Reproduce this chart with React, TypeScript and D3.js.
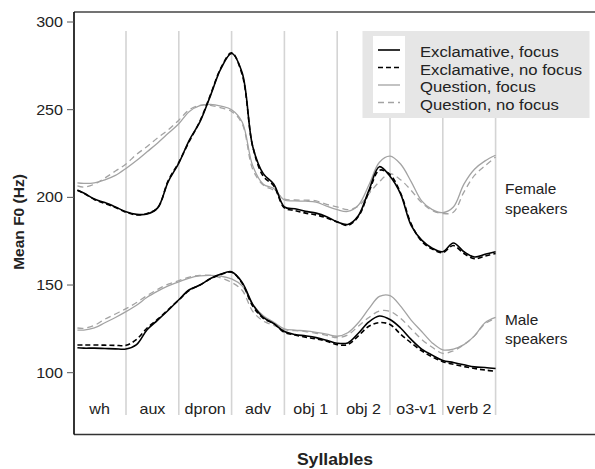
import React from "react";
import * as d3 from "d3";

const times = [0.08, 0.2, 0.4, 0.6, 0.8, 1.0, 1.2, 1.4, 1.6, 1.8, 2.0, 2.2, 2.4, 2.6, 2.8, 3.0, 3.2, 3.4, 3.6, 3.8, 4.0, 4.2, 4.4, 4.6, 4.8, 5.0, 5.2, 5.4, 5.6, 5.8, 6.0, 6.2, 6.4, 6.6, 6.8, 7.0, 7.2, 7.4, 7.6, 7.8, 8.0];
const syllables = ["wh", "aux", "dpron", "adv", "obj 1", "obj 2", "o3-v1", "verb 2"];
const yTicks = [100, 150, 200, 250, 300];

const femaleExclFocus = [204, 202.5, 199, 197, 194.5, 191.8, 190.3, 190.5, 194, 209, 219.5, 232.7, 243, 258, 273.5, 282, 271, 229, 213.5, 207.5, 194.5, 193.5, 192, 191, 189, 186, 184.5, 189.5, 204, 217.5, 212, 202, 184, 175.6, 171, 169, 174, 169, 166, 167.5, 169];
const femaleExclNoFocus = [204, 202.3, 198.8, 196.5, 194.2, 191.5, 190, 190.8, 194, 209.5, 220, 232, 243.5, 258.5, 274, 282.5, 270, 229, 212, 206.5, 194, 192.5, 191, 190, 188.3, 186, 184, 189, 203, 215.5, 213, 202.5, 185, 175, 170.5, 168.5, 172.5, 168, 165, 166.5, 168];
const femaleQuestFocus = [208.3, 208, 208.3, 210, 212.5, 216.5, 221, 226, 231, 236.5, 242, 249, 252.3, 253, 252, 250, 243, 218, 207.5, 205, 198.5, 198, 197.8, 197.3, 195, 193, 192, 195.5, 207, 220, 223.5, 219, 209, 198, 193, 191.3, 194.5, 207.5, 216, 220.8, 224];
const femaleQuestNoFocus = [206.5, 205.8, 207.5, 211, 215, 219, 224.5, 229, 234, 238.5, 244, 250, 252.5, 252.5, 251, 249, 242, 216, 207, 204, 199, 198.5, 198.4, 198, 196, 194.5, 193, 195, 202, 209, 213.5, 210, 204, 197, 192.5, 190.8, 191.5, 203, 212.5, 218, 223];

const maleExclFocus = [114.2, 114, 114, 113.8, 113.6, 113.5, 116, 124.5, 130, 135.6, 141.6, 147.3, 150, 153.7, 156.3, 157.5, 151.5, 139, 131.5, 128, 123.5, 121.8, 121, 120, 118.5, 116.8, 117, 122.5, 129, 132.3, 130.3, 125.5, 119, 113.5, 110, 107, 105.8, 104.5, 103.3, 103, 102.4];
const maleExclNoFocus = [115.8, 115.8, 115.8, 115.7, 115.6, 115.6, 119, 125.5, 130.5, 136, 141.5, 147, 150, 153.5, 156, 157.3, 151, 138, 131, 128, 123, 121.5, 120.3, 119.3, 118, 116, 116, 121, 126.5, 128.6, 127.5, 122, 117, 112.5, 109, 106.3, 104.8, 103.5, 102.4, 101.5, 100.8];
const maleQuestFocus = [124.3, 124.3, 125.5, 128.5, 131.5, 134.8, 138.5, 143, 146.5, 149.5, 151.8, 154, 155.2, 155.5, 155, 153.5, 149.5, 139, 132.5, 128.8, 125, 124.3, 123.8, 123, 122, 120.8, 122.8, 128.5, 136.5, 143.5, 144, 138, 130, 123.5, 117, 113, 113.5, 116, 121, 128.5, 131.5];
const maleQuestNoFocus = [125.5, 125.3, 127, 130.5, 133.5, 136.5, 140, 144, 147.5, 150.5, 152.5, 154.5, 155.5, 155.5, 154, 151.5, 147, 135, 129.5, 127, 124.5, 124, 123.5, 122.5, 121.3, 120, 121.5, 126.5, 131.5, 135.2, 135, 131, 125, 119, 114.5, 111, 112.5, 116, 121, 128, 131];

const legendLabels = ["Exclamative, focus", "Exclamative, no focus", "Question, focus", "Question, no focus"];
const groupLabels = [["Female", "speakers"], ["Male", "speakers"]];

const FONT = "'Liberation Sans', Arial, sans-serif";
const TEXT = "#222";

type TProps = { x: number; y: number; anchor?: string; size?: number; weight?: string | number; sx?: number; children: React.ReactNode };
function T({ x, y, anchor = "start", size = 14, weight = "normal", sx = 1.15, children }: TProps) {
  return (
    <text
      transform={`translate(${x},${y}) scale(${sx},1)`}
      textAnchor={anchor as any}
      fontFamily={FONT}
      fontSize={size}
      fontWeight={weight}
      fill={TEXT}
    >
      {children}
    </text>
  );
}

export default function App() {
  const W = 595;
  const H = 469;
  const x = d3.scaleLinear().domain([0, 8]).range([73.2, 495.6]);
  const y = d3.scaleLinear().domain([100, 300]).range([372.7, 22]);
  const line = d3
    .line<number>()
    .x((_, i) => x(times[i]))
    .y((d) => y(d))
    .curve(d3.curveCatmullRom.alpha(0.5));

  const styles = [
    { color: "#000", width: 1.6, dash: "none" },
    { color: "#000", width: 1.6, dash: "5,3" },
    { color: "#a3a3a3", width: 1.3, dash: "none" },
    { color: "#a3a3a3", width: 1.3, dash: "6,4" },
  ];
  const series = [
    { data: femaleQuestNoFocus, s: styles[3] },
    { data: femaleQuestFocus, s: styles[2] },
    { data: maleQuestNoFocus, s: styles[3] },
    { data: maleQuestFocus, s: styles[2] },
    { data: femaleExclNoFocus, s: styles[1] },
    { data: femaleExclFocus, s: styles[0] },
    { data: maleExclNoFocus, s: styles[1] },
    { data: maleExclFocus, s: styles[0] },
  ];

  const left = 74;
  const top = 12;
  const bottom = 434.5;
  const bounds = d3.range(1, 9);

  const legX = 362.5;
  const legY = 31;
  const rowY = [50, 67.5, 85, 102.5];

  return (
    <svg width={W} height={H} style={{ position: "absolute", left: 0, top: 0, background: "#fff" }}>
      <rect x={0} y={0} width={W} height={H} fill="#fff" />
      {bounds.map((b) => (
        <line key={b} x1={x(b)} x2={x(b)} y1={31} y2={415} stroke="#d4d4d4" strokeWidth={1.6} />
      ))}
      {series.map((sr, i) => (
        <path
          key={i}
          d={line(sr.data) || ""}
          fill="none"
          stroke={sr.s.color}
          strokeWidth={sr.s.width}
          strokeDasharray={sr.s.dash}
          strokeLinejoin="round"
        />
      ))}
      {/* legend */}
      <rect x={legX} y={legY} width={227} height={87} fill="#e6e6e6" />
      <rect x={373} y={36} width={32} height={77} fill="#fff" />
      {legendLabels.map((lab, i) => (
        <g key={lab}>
          <line x1={378} x2={400} y1={rowY[i]} y2={rowY[i]} stroke={styles[i].color} strokeWidth={styles[i].width} strokeDasharray={styles[i].dash} />
          <T x={420} y={rowY[i] + 7} size={14.5}>{lab}</T>
        </g>
      ))}
      {/* axes frame */}
      <line x1={left} x2={W} y1={top} y2={top} stroke="#444" strokeWidth={1.7} />
      <line x1={left} x2={W} y1={bottom} y2={bottom} stroke="#333" strokeWidth={1.7} />
      <line x1={left} x2={left} y1={top} y2={bottom} stroke="#111" strokeWidth={1.7} />
      {yTicks.map((t) => (
        <g key={t}>
          <line x1={67} x2={left} y1={y(t)} y2={y(t)} stroke="#555" strokeWidth={1} />
          <T x={63} y={y(t) + 5} anchor="end" size={14}>{t}</T>
        </g>
      ))}
      {syllables.map((s, i) => (
        <T key={s} x={x(i + 0.5)} y={414} anchor="middle" size={14}>{s}</T>
      ))}
      <T x={505} y={194} size={14} sx={1.1}>{groupLabels[0][0]}</T>
      <T x={505} y={214} size={14} sx={1.1}>{groupLabels[0][1]}</T>
      <T x={505} y={325} size={14} sx={1.1}>{groupLabels[1][0]}</T>
      <T x={505} y={344} size={14} sx={1.1}>{groupLabels[1][1]}</T>
      <text
        transform={`translate(24,222) rotate(-90)`}
        textAnchor="middle"
        fontFamily={FONT}
        fontSize={15.5}
        fontWeight="bold"
        fill={TEXT}
      >
        Mean F0 (Hz)
      </text>
      <T x={335} y={465} anchor="middle" size={16} weight="bold" sx={1.1}>Syllables</T>
    </svg>
  );
}
